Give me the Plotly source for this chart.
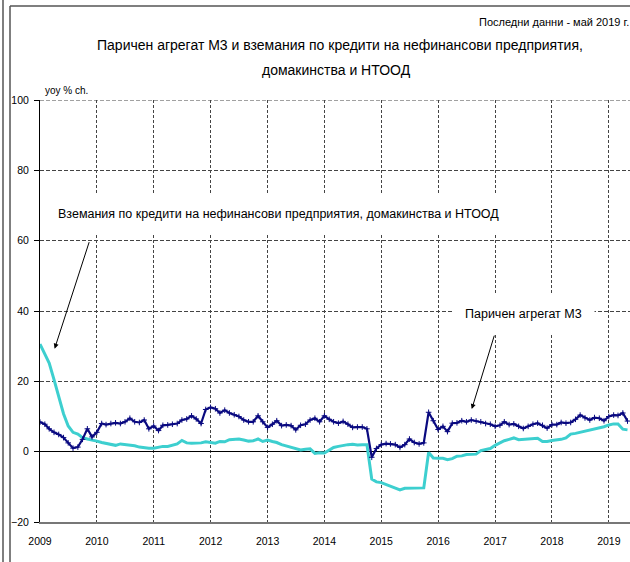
import pandas as pd
import plotly.graph_objects as go

dates = pd.date_range("2009-01-01", periods=125, freq="MS")

m3 = [
    8.4, 7.8, 6.5, 5.5, 4.9, 4.0, 2.5, 1.0, 1.3, 3.5, 6.5, 4.2,
    5.5, 8.0, 7.7, 8.0, 8.2, 8.0, 8.5, 9.5, 8.5, 8.3, 9.0, 6.5,
    7.3, 6.0, 7.5, 7.6, 7.8, 8.0, 9.0, 9.3, 10.2, 9.3, 8.0, 12.0,
    12.6, 12.2, 11.0, 11.8, 11.0, 10.5, 10.0, 9.0, 8.5, 8.5, 10.2, 8.5,
    6.9, 7.8, 8.8, 7.4, 7.6, 7.4, 6.2, 7.5, 7.8, 9.0, 9.5, 8.5,
    10.2, 9.2, 8.5, 8.1, 8.6, 7.8, 6.9, 7.0, 7.0, 6.5, -1.6, 0.9,
    2.0, 2.3, 2.2, 2.0, 1.2, 2.0, 3.6, 2.6, 2.2, 2.5, 11.2, 8.8,
    6.3, 7.2, 5.7, 8.1, 8.2, 8.8, 8.5, 9.0, 8.7, 8.5, 8.0, 7.8,
    7.2, 7.5, 8.5, 7.7, 7.9, 7.2, 6.6, 7.2, 7.8, 8.1, 7.5, 6.7,
    7.7, 7.7, 8.3, 8.1, 8.3, 9.2, 10.4, 9.6, 9.0, 9.7, 9.5, 8.8,
    10.0, 10.4, 10.3, 11.0, 8.7,
]

credit = [
    30.6, 27.8, 25.2, 20.5, 15.5, 10.8, 7.3, 5.5, 5.0, 4.0, 3.6, 3.4,
    3.0, 2.6, 2.4, 2.2, 1.8, 2.2, 2.1, 2.0, 1.7, 1.3, 1.1, 1.0,
    1.0, 1.3, 1.5, 1.5, 1.8, 2.2, 3.2, 2.5, 2.4, 2.4, 2.5, 2.8,
    2.7, 2.4, 2.9, 2.8, 3.4, 3.6, 3.6, 3.3, 3.0, 3.1, 3.6, 2.9,
    3.3, 2.9, 2.6, 2.0, 1.6, 1.1, 0.7, 0.5, 0.7, 0.8, -0.5, -0.3,
    -0.4, 0.5, 1.2, 1.5, 1.8, 2.0, 2.1, 1.9, 2.0, 2.0, -7.8, -8.6,
    -8.8, -9.3, -9.7, -10.2, -10.9, -10.4, -10.4, -10.3, -10.3, -10.3, -0.2, -1.8,
    -1.9, -1.9, -2.3, -2.0, -1.3, -1.2, -0.8, -0.7, -0.7, 0.3, 0.6, 0.9,
    1.8, 2.6, 3.1, 3.5, 3.9, 3.4, 3.5, 3.6, 3.8, 3.8, 2.9, 2.9,
    3.2, 3.3, 3.5, 3.9, 5.0, 5.2, 5.5, 5.8, 6.1, 6.5, 6.7, 7.1,
    7.6, 7.9, 7.9, 6.4, 6.2,
]

y_ticks = [-20, 0, 20, 40, 60, 80, 100]

FONT = "Liberation Sans, Arial, sans-serif"

fig = go.Figure()
fig.add_trace(go.Scatter(
    x=dates, y=credit, mode="lines",
    line=dict(color="#3DCFCF", width=3),
    name="Вземания", showlegend=False,
))
fig.add_trace(go.Scatter(
    x=dates, y=m3, mode="lines+markers",
    line=dict(color="#0A0A80", width=2.2),
    marker=dict(symbol="cross-thin", size=4, line=dict(color="#0A0A80", width=1)),
    name="M3", showlegend=False,
))

W, H = 630, 562
L, R, T, B = 40, 0, 100, 40
pw, ph = W - L - R, H - T - B

def px(x):
    return (x - L) / pw

def py(y):
    return (H - B - y) / ph

annotations = [
    dict(xref="paper", yref="paper", x=px(340), y=py(45), xanchor="center", yanchor="middle",
         text="Паричен агрегат М3 и вземания по кредити на нефинансови предприятия,",
         showarrow=False, font=dict(family=FONT, size=14, color="#000")),
    dict(xref="paper", yref="paper", x=px(337), y=py(70), xanchor="center", yanchor="middle",
         text="домакинства и НТООД",
         showarrow=False, font=dict(family=FONT, size=14, color="#000")),
    dict(xref="paper", yref="paper", x=px(477), y=py(22), xanchor="left", yanchor="middle",
         text="Последни данни - май 2019 г.", showarrow=False,
         font=dict(family=FONT, size=11, color="#000")),
    dict(xref="paper", yref="paper", x=px(43), y=py(90), xanchor="left", yanchor="middle",
         text="yoy % ch.", showarrow=False, font=dict(family=FONT, size=10, color="#000")),
    dict(xref="x", yref="y", x="2013-03-10", y=67.7, xanchor="center", yanchor="middle",
         text="Вземания по кредити на нефинансови предприятия, домакинства и НТООД",
         showarrow=False, bgcolor="white", borderpad=12,
         font=dict(family=FONT, size=12.5, color="#000")),
    dict(xref="x", yref="y", x="2017-07-01", y=39.2, xanchor="center", yanchor="middle",
         text="Паричен агрегат М3", showarrow=False, bgcolor="white", borderpad=12,
         font=dict(family=FONT, size=12.5, color="#000")),
    dict(xref="x", yref="y", x="2009-04-05", y=29.3, text="", showarrow=True,
         ax=35, ay=-108, arrowhead=2, arrowsize=1, arrowwidth=1, arrowcolor="#000"),
    dict(xref="x", yref="y", x="2016-08-04", y=12.1, text="", showarrow=True,
         ax=23, ay=-75, arrowhead=2, arrowsize=1, arrowwidth=1, arrowcolor="#000"),
]

shapes = [
    dict(type="line", xref="paper", yref="paper", x0=px(3), x1=px(3), y0=py(0), y1=py(H),
         line=dict(color="#555", width=1.5)),
    dict(type="line", xref="paper", yref="paper", x0=px(10), x1=px(10), y0=py(6), y1=py(H),
         line=dict(color="#555", width=1.5)),
    dict(type="line", xref="paper", yref="paper", x0=px(10), x1=px(W + 5), y0=py(6), y1=py(6),
         line=dict(color="#555", width=1.5)),
    dict(type="line", xref="paper", yref="y", x0=0, x1=1, y0=100, y1=100, layer="below",
         line=dict(color="#444", width=1, dash="4px,2px")),
]

fig.update_layout(
    width=W, height=H,
    margin=dict(l=L, r=R, t=T, b=B, pad=0, autoexpand=False),
    paper_bgcolor="white", plot_bgcolor="white",
    annotations=annotations, shapes=shapes,
    font=dict(family=FONT, size=10, color="#000"),
    xaxis=dict(
        type="date", range=["2009-01-01", "2019-05-17"],
        tick0="2009-01-01", dtick="M12", tickformat="%Y",
        showgrid=True, gridcolor="#444", griddash="3px,2px", gridwidth=1,
        showline=True, linecolor="#777", linewidth=1.5,
        ticks="", ticklabelstandoff=9, automargin=False,
        tickfont=dict(family=FONT, size=10.5, color="#000"),
        zeroline=False,
    ),
    yaxis=dict(
        range=[-20, 100], tickvals=y_ticks, automargin=False,
        showgrid=True, gridcolor="#444", griddash="4px,2px", gridwidth=1,
        showline=True, linecolor="#000", linewidth=1,
        ticks="outside", ticklen=5, tickcolor="#000", ticklabelstandoff=3,
        zeroline=True, zerolinecolor="#000", zerolinewidth=1.2,
        tickfont=dict(family=FONT, size=10.5, color="#000"),
    ),
)

fig.write_html(
    "out.html",
    config={"displayModeBar": False},
    post_script="document.body.style.margin='0';document.body.style.overflow='hidden';",
)
